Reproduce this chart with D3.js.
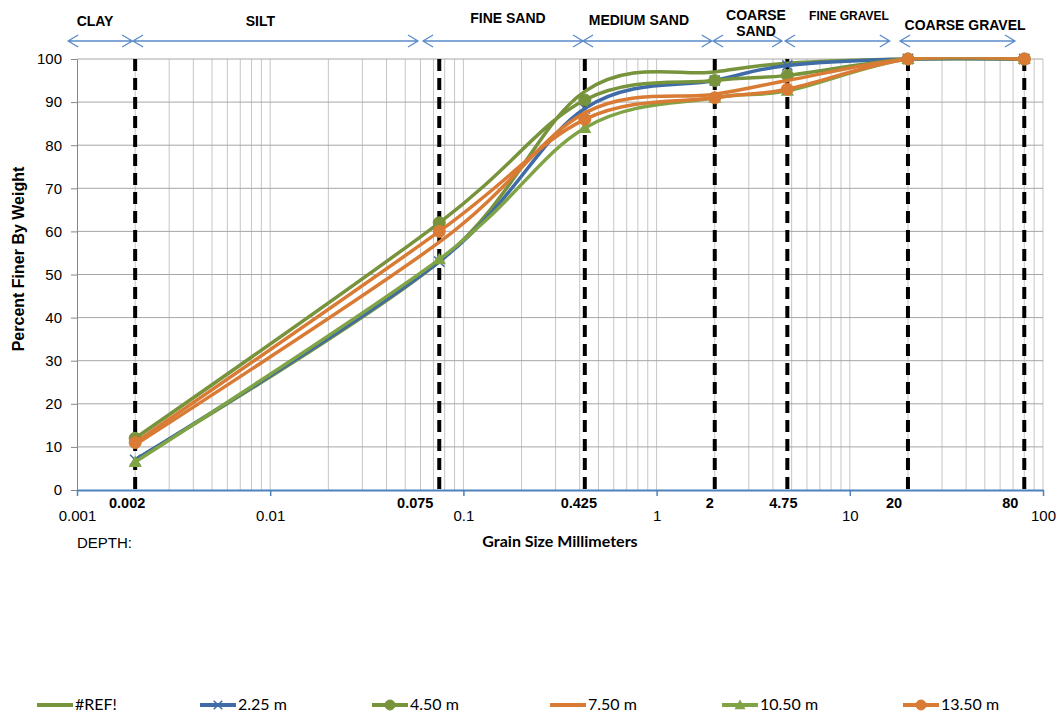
<!DOCTYPE html>
<html>
<head>
<meta charset="utf-8">
<script src="https://cdn.jsdelivr.net/npm/d3@7"></script>
<style>
  body { margin: 0; background: #fff; }
  svg { display: block; }
</style>
</head>
<body>
<svg id="chart" width="1060" height="713"></svg>
<script>
'use strict';

// sieve sizes (mm) where each sample was measured
const sizes = [0.002, 0.075, 0.425, 2, 4.75, 20, 80];

// percent finer by weight, per depth
const refValues = [7, 53, 92.5, 97, 99, 100, 100];
const d225 = [7, 53, 88.5, 95, 98.5, 100, 100];
const d450 = [12, 62, 90.5, 95, 96.2, 100, 100];
const d750 = [10.5, 57.5, 87.5, 91.8, 95, 100, 100];
const d1050 = [6.5, 53.5, 84, 91, 92.6, 100, 100];
const d1350 = [11, 60, 86, 91, 93, 100, 100];

const seriesNames = ['#REF!', '2.25 m', '4.50 m', '7.50 m', '10.50 m', '13.50 m'];

// soil classification boundaries and labels
const boundaries = [0.002, 0.075, 0.425, 2, 4.75, 20, 80];
const boundaryLabels = ['0.002', '0.075', '0.425', '2', '4.75', '20', '80'];
const zoneNames = [['CLAY'], ['SILT'], ['FINE SAND'], ['MEDIUM SAND'], ['COARSE', 'SAND'], ['FINE GRAVEL'], ['COARSE GRAVEL']];
const zoneFrom = [0.0009, 0.00195, 0.0618, 0.416, 1.96, 4.62, 18.2];
const zoneTo = [0.00193, 0.0582, 0.416, 1.93, 4.46, 16.1, 71.6];
const zoneLabelAt = [0.00124, 0.0089, 0.170, 0.81, 3.27, 9.9, 39.5];

const decades = [0.001, 0.01, 0.1, 1, 10, 100];
const yTicks = [0, 10, 20, 30, 40, 50, 60, 70, 80, 90, 100];

const svg = d3.select('#chart');
const plotLeft = 77, plotRight = 1043, plotTop = 59, plotBottom = 490;

const x = d3.scaleLog().domain([0.001, 100]).range([plotLeft, plotRight]);
const y = d3.scaleLinear().domain([0, 100]).range([plotBottom, plotTop]);

const green = '#77933C';
const blue = '#3F6CA8';
const orange = '#D97B34';
const green2 = '#80A445';

const series = [
  { name: seriesNames[0], values: refValues, color: green, marker: null },
  { name: seriesNames[1], values: d225, color: blue, marker: 'x' },
  { name: seriesNames[2], values: d450, color: green, marker: 'circle' },
  { name: seriesNames[3], values: d750, color: orange, marker: null },
  { name: seriesNames[4], values: d1050, color: green2, marker: 'triangle' },
  { name: seriesNames[5], values: d1350, color: orange, marker: 'circle' }
];

const font = '"Liberation Sans", Arial, sans-serif';

// keep the smoothed lines from bulging above 100%
svg.append('defs').append('clipPath')
  .attr('id', 'plot-clip')
  .append('rect')
  .attr('x', 0).attr('y', plotTop - 1.75)
  .attr('width', 1060).attr('height', 713);

// minor vertical gridlines
const minor = [];
decades.slice(0, -1).forEach(d => {
  for (let k = 1; k < 10; k++) minor.push(d * k);
});
minor.push(100);

svg.append('g')
  .selectAll('line')
  .data(minor.filter(v => v > 0.001))
  .join('line')
  .attr('x1', d => x(d)).attr('x2', d => x(d))
  .attr('y1', plotTop).attr('y2', plotBottom)
  .attr('stroke', '#c6c6c6')
  .attr('stroke-width', 1);

// horizontal gridlines
svg.append('g')
  .selectAll('line')
  .data(yTicks.filter(v => v > 0))
  .join('line')
  .attr('x1', plotLeft).attr('x2', plotRight)
  .attr('y1', d => y(d)).attr('y2', d => y(d))
  .attr('stroke', '#a6a6a6')
  .attr('stroke-width', 1);

// y axis
const yAxis = svg.append('g')
  .attr('transform', `translate(${plotLeft},0)`)
  .call(d3.axisLeft(y).tickValues(yTicks).tickSize(6).tickSizeOuter(0).tickPadding(9));
yAxis.select('.domain').attr('stroke', '#868686');
yAxis.selectAll('.tick line').attr('stroke', '#868686');
yAxis.selectAll('text')
  .attr('font-family', font)
  .attr('font-size', 15)
  .attr('fill', '#000');

// x axis
const xAxis = svg.append('g')
  .attr('transform', `translate(0,${plotBottom})`)
  .call(d3.axisBottom(x).tickValues(decades).tickFormat(d => String(d)).tickSize(6).tickSizeOuter(0).tickPadding(14));
xAxis.select('.domain').attr('stroke', '#4F81BD').attr('stroke-width', 2);
xAxis.selectAll('.tick line').attr('stroke', '#4F81BD').attr('stroke-width', 1.5);
xAxis.selectAll('text')
  .attr('font-family', font)
  .attr('font-size', 15)
  .attr('fill', '#000');

// dashed boundary lines
svg.append('g')
  .selectAll('line')
  .data(boundaries)
  .join('line')
  .attr('x1', d => x(d)).attr('x2', d => x(d))
  .attr('y1', plotTop).attr('y2', plotBottom)
  .attr('stroke', '#000')
  .attr('stroke-width', 4)
  .attr('stroke-dasharray', '12,7');

const boundaryLabelDx = [-8, -24, -6, -5, -4, -14, -14];
svg.append('g')
  .selectAll('text')
  .data(boundaries)
  .join('text')
  .attr('x', (d, i) => x(d) + boundaryLabelDx[i])
  .attr('y', 508)
  .attr('text-anchor', 'middle')
  .attr('font-family', font)
  .attr('font-weight', 'bold')
  .attr('font-size', 14.5)
  .text((d, i) => boundaryLabels[i]);

// series lines
const line = d3.line()
  .x((d, i) => x(sizes[i]))
  .y(d => y(d))
  .curve(d3.curveCardinal.tension(0));

const gSeries = svg.append('g');

function drawMarker(g, type, color, size) {
  if (type === 'circle') {
    g.append('circle').attr('r', size).attr('fill', color).attr('stroke', color);
  } else if (type === 'triangle') {
    const s = size * 1.1;
    g.append('path')
      .attr('d', `M0,${-s}L${s},${s * 0.75}L${-s},${s * 0.75}Z`)
      .attr('fill', color);
  } else if (type === 'x') {
    const s = size * 0.85;
    g.append('path')
      .attr('d', `M${-s},${-s}L${s},${s}M${-s},${s}L${s},${-s}`)
      .attr('stroke', color)
      .attr('stroke-width', 1.5)
      .attr('fill', 'none');
  }
}

series.forEach(s => {
  gSeries.append('path')
    .attr('d', line(s.values))
    .attr('clip-path', 'url(#plot-clip)')
    .attr('fill', 'none')
    .attr('stroke', s.color)
    .attr('stroke-width', 3.5);
  if (s.marker) {
    s.values.forEach((v, i) => {
      const m = gSeries.append('g').attr('transform', `translate(${x(sizes[i])},${y(v)})`);
      drawMarker(m, s.marker, s.color, 6);
    });
  }
});

// zone arrows across the top
const arrowY = 41;
const arrowColor = '#5B8BC9';
const gZones = svg.append('g');
zoneNames.forEach((z, i) => {
  const x1 = x(zoneFrom[i]);
  const x2 = x(zoneTo[i]);
  gZones.append('path')
    .attr('d', `M${x1},${arrowY}L${x2},${arrowY}` +
      `M${x1 + 10},${arrowY - 6}L${x1},${arrowY}L${x1 + 10},${arrowY + 6}` +
      `M${x2 - 10},${arrowY - 6}L${x2},${arrowY}L${x2 - 10},${arrowY + 6}`)
    .attr('fill', 'none')
    .attr('stroke', arrowColor)
    .attr('stroke-width', 1.3);
});

const labelY = [26, 26, 23, 25, 20, 20, 30];
const labelSize = [14, 14, 14, 14, 14, 12, 14];
zoneNames.forEach((z, i) => {
  const t = gZones.append('text')
    .attr('x', x(zoneLabelAt[i]))
    .attr('y', labelY[i])
    .attr('text-anchor', 'middle')
    .attr('font-family', font)
    .attr('font-weight', 'bold')
    .attr('font-size', labelSize[i]);
  z.forEach((part, j) => {
    t.append('tspan')
      .attr('x', x(zoneLabelAt[i]))
      .attr('dy', j === 0 ? 0 : 16)
      .text(part);
  });
});

// axis titles
svg.append('text')
  .attr('transform', 'translate(24,259) rotate(-90)')
  .attr('text-anchor', 'middle')
  .attr('font-family', font)
  .attr('font-weight', 'bold')
  .attr('font-size', 16)
  .text('Percent Finer By Weight');

svg.append('text')
  .attr('x', 560)
  .attr('y', 547)
  .attr('text-anchor', 'middle')
  .attr('font-family', 'Lato, "Open Sans", sans-serif')
  .attr('font-weight', 'bold')
  .attr('font-size', 16)
  .text('Grain Size Millimeters');

svg.append('text')
  .attr('x', 77)
  .attr('y', 548)
  .attr('font-family', font)
  .attr('font-size', 15)
  .text('DEPTH:');

// legend
const legendX = [37, 200, 372, 550, 722, 903];
const legendY = 705;
series.forEach((s, i) => {
  const g = svg.append('g').attr('transform', `translate(${legendX[i]},${legendY})`);
  g.append('line')
    .attr('x1', 0).attr('x2', 36)
    .attr('stroke', s.color)
    .attr('stroke-width', 4);
  if (s.marker) {
    const m = g.append('g').attr('transform', 'translate(18,0)');
    drawMarker(m, s.marker, s.color, 5);
  }
  g.append('text')
    .attr('x', 38)
    .attr('y', 5)
    .attr('font-family', 'Lato, "Open Sans", sans-serif')
    .attr('font-size', 16)
    .text(s.name);
});
</script>
</body>
</html>
